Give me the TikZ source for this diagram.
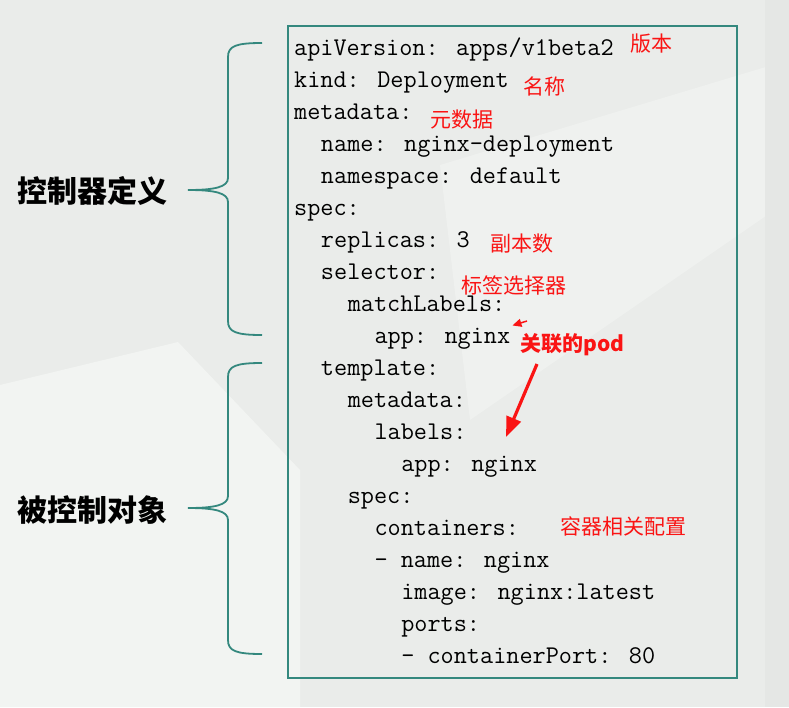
\documentclass[tikz,border=0pt]{standalone}
\usepackage{fontspec}
\newfontfamily\cjk{Noto Sans CJK SC}
\usetikzlibrary{arrows.meta}

\definecolor{boxteal}{RGB}{52,136,126}
\definecolor{notered}{RGB}{250,20,20}
\definecolor{bgA}{RGB}{234,236,234}
\definecolor{bgB}{RGB}{242,244,242}
\definecolor{bgC}{RGB}{229,231,229}

\tikzset{
  codeline/.style={anchor=base west, inner sep=2pt, font=\fontsize{25.5}{30}\ttfamily},
  note/.style={anchor=west, inner sep=0pt, text=notered, font=\fontsize{21}{25}\cjk},
  sidelabel/.style={anchor=west, inner sep=0pt, font=\fontsize{30}{34}\cjk\bfseries},
  bracket/.style={draw=boxteal, line width=1.8pt},
  notearrow/.style={draw=notered, line width=1.5pt, -{Triangle[length=9pt,width=8pt]}},
}

\begin{document}
\begin{tikzpicture}[x=1pt,y=-1pt]
  % background
  \fill[bgA] (0,0) rectangle (789,707);
  \fill[bgB] (0,385) -- (178,342) -- (300,470) -- (300,707) -- (0,707) -- cycle;
  \fill[bgB!60!bgA] (440,165) -- (789,60) -- (789,200) -- (470,420) -- cycle;
  \fill[bgC] (765,0) -- (789,0) -- (789,707) -- (765,707) -- cycle;
  \useasboundingbox (0,0) rectangle (789,707);

  % yaml box
  \draw[boxteal, line width=2pt] (288,26) rectangle (737,678);

  \foreach \n/\s [count=\i] in {
      0/{apiVersion: apps/v1beta2}, 0/{kind: Deployment}, 0/{metadata:},
      2/{name: nginx-deployment}, 2/{namespace: default}, 0/{spec:},
      2/{replicas: 3}, 2/{selector:}, 4/{matchLabels:}, 6/{app: nginx},
      2/{template:}, 4/{metadata:}, 6/{labels:}, 8/{app: nginx},
      4/{spec:}, 6/{containers:}, 6/{- name: nginx}, 8/{image: nginx:latest},
      8/{ports:}, 8/{- containerPort: 80}}
    \node[codeline] (l\i) at (292+13.39*\n, 23+32*\i) {\s};

  % braces
  \foreach \t/\m/\b in {43/190/335, 363/508/654}
    \draw[bracket] (262,\t) .. controls (236,\t) and (228,\t+3) .. (228,\t+14)
      -- (228,\m-12) .. controls (228,\m-3) and (215,\m) .. (188,\m)
      .. controls (215,\m) and (228,\m+3) .. (228,\m+12)
      -- (228,\b-14) .. controls (228,\b-3) and (236,\b) .. (262,\b);

  \node[sidelabel] (ctrl) at (17,191) {控制器定义};
  \node[sidelabel] (obj) at (17,510) {被控制对象};

  % notes
  \node[note] (ver) at (630,44) {版本};
  \node[note] (kind) at (523,86) {名称};
  \node[note] (meta) at (430,120) {元数据};
  \node[note] (rep) at (490,244) {副本数};
  \node[note] (sel) at (461,285) {标签选择器};
  \node[note, font=\fontsize{21}{25}\cjk\bfseries] (pod) at (520,345) {关联的pod};
  \node[note] (ctn) at (560,526) {容器相关配置};

  \coordinate (smalltail) at (527,321);
  \coordinate (bigtail) at (537,364);
  \coordinate (bigtip) at (506,437);
  \draw[notearrow] (smalltail) -- (l10.north east);
  \draw[notearrow, line width=3.2pt, -{Triangle[length=20pt,width=15pt]}] (bigtail) -- (bigtip);
\end{tikzpicture}
\end{document}
